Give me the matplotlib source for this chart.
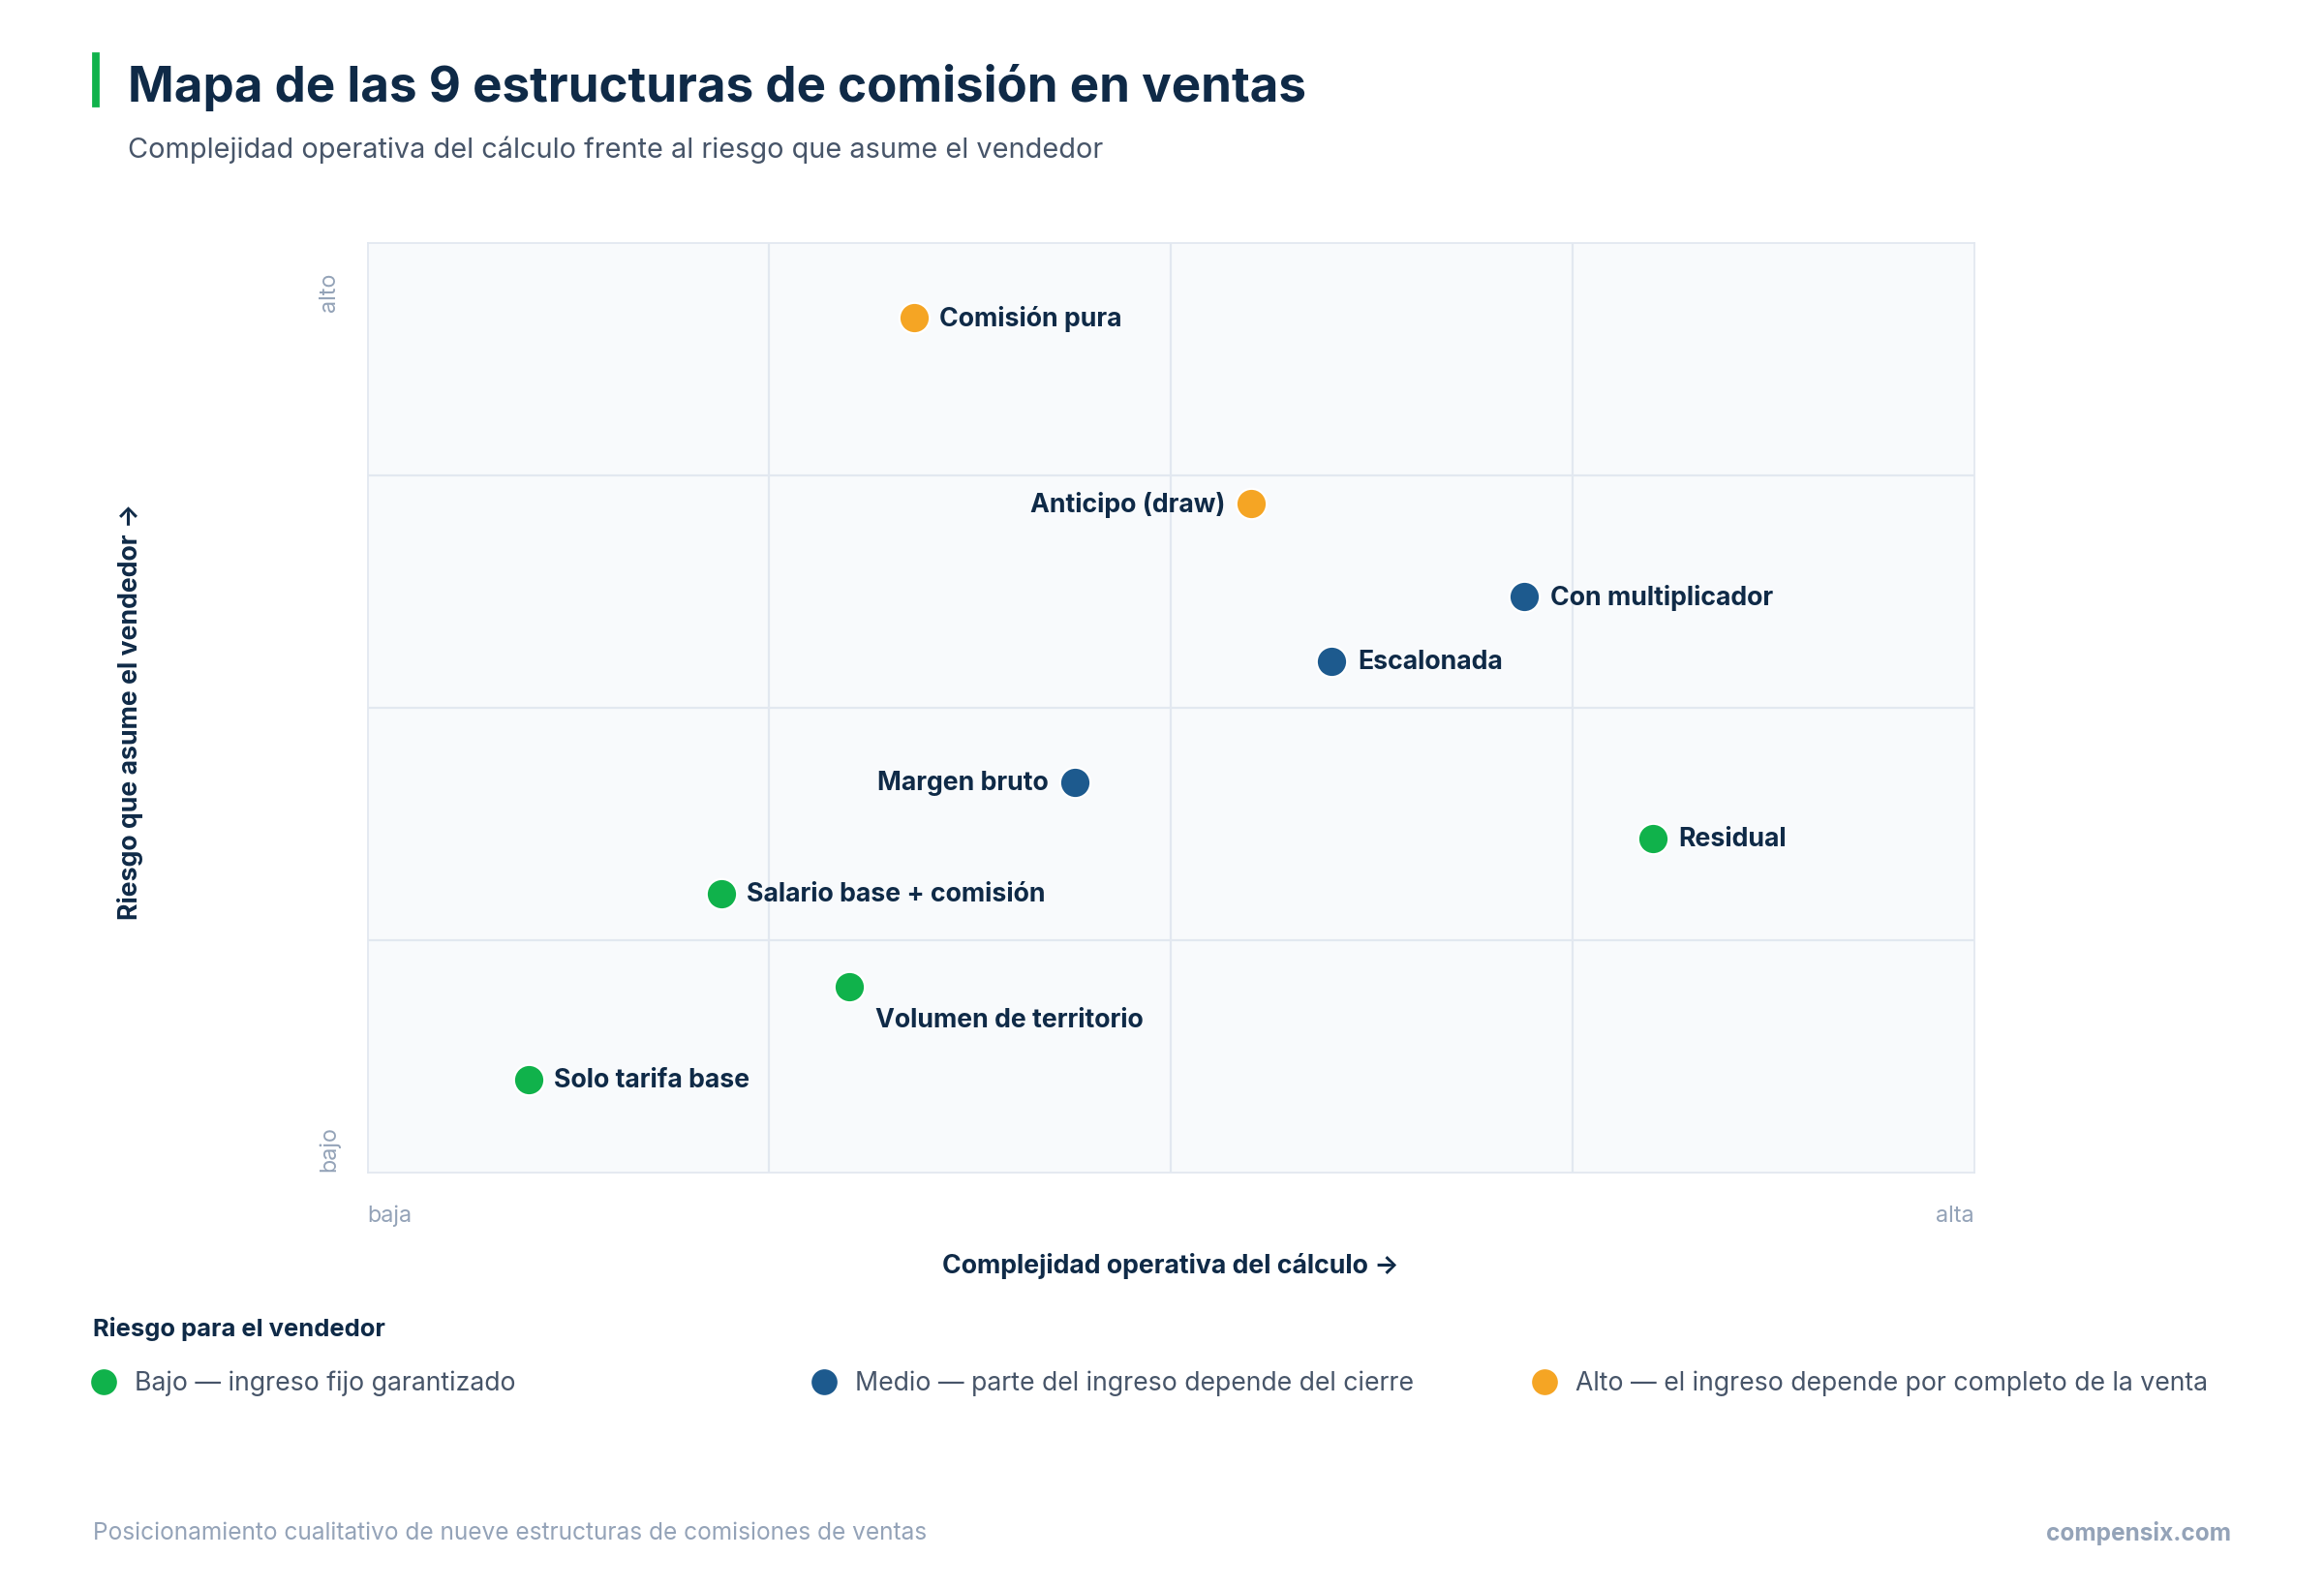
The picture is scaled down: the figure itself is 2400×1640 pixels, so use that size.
import matplotlib.pyplot as plt
from matplotlib.lines import Line2D

plt.rcParams['font.family'] = ['Inter', 'DejaVu Sans']

# data (qualitative 0-10 scale)
names = ["Comisión pura", "Anticipo (draw)", "Con multiplicador", "Escalonada",
         "Margen bruto", "Residual", "Salario base + comisión",
         "Volumen de territorio", "Solo tarifa base"]
complexity = [3.4, 5.5, 7.2, 6.0, 4.4, 8.0, 2.2, 3.0, 1.0]
risk = [9.2, 7.2, 6.2, 5.5, 4.2, 3.6, 3.0, 2.0, 1.0]
level = ["alto", "alto", "medio", "medio", "medio", "bajo", "bajo", "bajo", "bajo"]
label_side = ["right", "left", "right", "right", "left", "right", "right", "below", "right"]

colors = {"bajo": "#10b24b", "medio": "#1d5a8e", "alto": "#f5a524"}
legend_labels = {"bajo": "Bajo — ingreso fijo garantizado",
                 "medio": "Medio — parte del ingreso depende del cierre",
                 "alto": "Alto — el ingreso depende por completo de la venta"}
navy = "#0f2a47"
grey = "#94a3b8"

W, H = 1568, 1071
fig = plt.figure(figsize=(15, 10.25), dpi=160)
fig.patch.set_facecolor("white")

def fx(px):
    return px / W

def fy(py):
    return 1 - py / H

ax = fig.add_axes([fx(248), fy(791), fx(1332) - fx(248), fy(164) - fy(791)])
ax.set_facecolor("#f8fafc")
ax.set_xlim(0, 10)
ax.set_ylim(0, 10)
ax.set_xticks([2.5, 5, 7.5])
ax.set_yticks([2.5, 5, 7.5])
ax.grid(True, color="#e2e8f0", linewidth=1)
ax.tick_params(length=0, labelbottom=False, labelleft=False)
for s in ax.spines.values():
    s.set_color("#e2e8f0")
ax.set_axisbelow(True)

for n, x, y, lv, side in zip(names, complexity, risk, level, label_side):
    ax.scatter(x, y, s=200, color=colors[lv], zorder=3, edgecolor="white", linewidth=1)
    kw = dict(fontsize=12, fontweight="bold", color=navy, va="center")
    if side == "right":
        ax.annotate(n, (x, y), xytext=(12, -0.5), textcoords="offset points", ha="left", **kw)
    elif side == "left":
        ax.annotate(n, (x, y), xytext=(-12, -0.5), textcoords="offset points", ha="right", **kw)
    else:
        ax.annotate(n, (x, y), xytext=(12, -15.5), textcoords="offset points", ha="left", **kw)

# axis end labels
fig.text(fx(248), fy(820), "baja", fontsize=10.5, color=grey, ha="left", va="center")
fig.text(fx(1332), fy(820), "alta", fontsize=10.5, color=grey, ha="right", va="center")
fig.text(fx(222), fy(197), "alto", fontsize=10.5, color=grey, rotation=90, ha="center", va="center")
fig.text(fx(222), fy(775), "bajo", fontsize=10.5, color=grey, rotation=90, ha="center", va="center")
fig.text(fx(790), fy(854), "Complejidad operativa del cálculo →", fontsize=12,
         fontweight="bold", color=navy, ha="center", va="center")
fig.text(fx(88), fy(480), "Riesgo que asume el vendedor →", fontsize=12,
         fontweight="bold", color=navy, rotation=90, ha="center", va="center")

# title block
fig.add_artist(Line2D([fx(65), fx(65)], [fy(38), fy(70)], color="#10b24b", linewidth=3.5))
fig.text(fx(86), fy(59), "Mapa de las 9 estructuras de comisión en ventas", fontsize=23,
         fontweight="bold", color=navy, ha="left", va="center")
fig.text(fx(86), fy(101), "Complejidad operativa del cálculo frente al riesgo que asume el vendedor",
         fontsize=13, color="#475569", ha="left", va="center")

# legend
fig.text(fx(63), fy(896), "Riesgo para el vendedor", fontsize=11.5, fontweight="bold",
         color=navy, ha="left", va="center")
for lv, px in zip(["bajo", "medio", "alto"], [70, 556, 1042]):
    fig.add_artist(Line2D([fx(px)], [fy(932)], marker="o", markersize=11,
                          color=colors[lv], linestyle="none"))
    fig.text(fx(px + 21), fy(933), legend_labels[lv], fontsize=12, color="#475569",
             ha="left", va="center")

# footer
fig.text(fx(63), fy(1034), "Posicionamiento cualitativo de nueve estructuras de comisiones de ventas",
         fontsize=11, color=grey, ha="left", va="center")
fig.text(fx(1505), fy(1034), "compensix.com", fontsize=11, fontweight="bold",
         color=grey, ha="right", va="center")

fig.savefig("out.png", dpi=160, facecolor="white")
